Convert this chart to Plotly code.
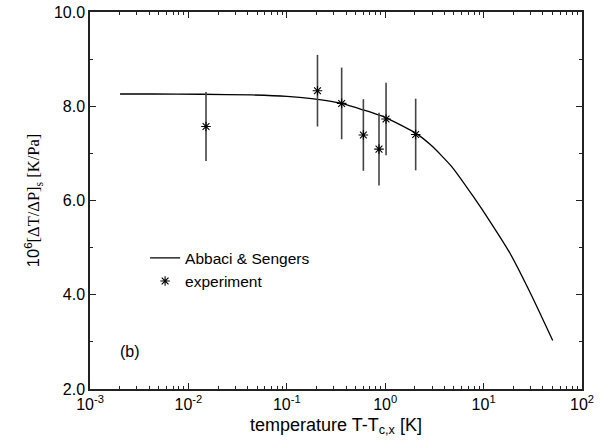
import plotly.graph_objects as go

# Model curve (Abbaci & Sengers)
curve_x = [0.00202, 0.00424, 0.0137, 0.044, 0.1, 0.179, 0.361, 0.600, 1.01, 2.04,
           2.97, 4.74, 7.88, 12.09, 18.55, 30.8, 50.4]
curve_y = [8.26, 8.26, 8.255, 8.24, 8.21, 8.16, 8.06, 7.92, 7.76, 7.43,
           7.16, 6.72, 6.08, 5.50, 4.88, 3.98, 3.03]

# Experimental data
exp_x = [0.0151, 0.205, 0.361, 0.600, 0.865, 1.02, 2.04]
exp_y = [7.57, 8.33, 8.06, 7.39, 7.09, 7.73, 7.40]
exp_err = [0.73, 0.76, 0.76, 0.76, 0.77, 0.77, 0.76]

x_tickvals = [1e-3, 1e-2, 1e-1, 1e0, 1e1, 1e2]
x_ticktext = ["10<sup>-3</sup>", "10<sup>-2</sup>", "10<sup>-1</sup>",
              "10<sup>0</sup>", "10<sup>1</sup>", "10<sup>2</sup>"]
y_tickvals = [2, 4, 6, 8, 10]
y_ticktext = ["2.0", "4.0", "6.0", "8.0", "10.0"]

font_sans = "Liberation Sans, Arial, sans-serif"
font_serif = "Liberation Serif, Times New Roman, serif"

fig = go.Figure()
fig.add_trace(go.Scatter(
    x=curve_x, y=curve_y, mode="lines", name="Abbaci & Sengers",
    line=dict(color="black", width=1.3, shape="spline", smoothing=0.5),
))
fig.add_trace(go.Scatter(
    x=exp_x, y=exp_y, mode="markers", name="experiment",
    marker=dict(symbol="asterisk-open", size=8, color="black",
                line=dict(color="black", width=1.1)),
    error_y=dict(type="data", array=exp_err, visible=True, width=0,
                 thickness=1.6, color="#444444"),
))

axis_common = dict(
    showgrid=False, zeroline=False, showline=True, linecolor="#222222",
    linewidth=1.5, mirror="allticks", ticks="inside", ticklen=6,
    tickcolor="#222222", tickwidth=1, automargin=False,
    tickfont=dict(family=font_sans, size=16, color="black"),
)

fig.update_layout(
    width=602, height=443,
    margin=dict(l=90, r=20, t=12, b=54),
    paper_bgcolor="white", plot_bgcolor="white",
    showlegend=True,
    legend=dict(x=0.112, y=0.392, xanchor="left", yanchor="top",
                bgcolor="rgba(0,0,0,0)", borderwidth=0,
                font=dict(family=font_sans, size=15.5, color="black"),
                tracegroupgap=0),
    xaxis=dict(
        type="log", range=[-3, 2], tickvals=x_tickvals, ticktext=x_ticktext,
        minor=dict(ticks="inside", ticklen=3, tickcolor="#222222",
                   tickwidth=1, dtick="D1", showgrid=False),
        title=dict(text="temperature T-T<sub>c,x</sub> [K]",
                   font=dict(family=font_sans, size=18, color="black"),
                   standoff=6),
        **axis_common,
    ),
    yaxis=dict(
        range=[2, 10], tickvals=y_tickvals, ticktext=y_ticktext,
        minor=dict(ticks="inside", ticklen=3, tickcolor="#222222",
                   tickwidth=1, dtick=1, showgrid=False),
        title=dict(text="<span style=\"font-family:Liberation Sans\">10<sup>6</sup></span>[ΔT/ΔP]<sub>s</sub> [K/Pa]",
                   font=dict(family=font_serif, size=16.5, color="black"),
                   standoff=10),
        **axis_common,
    ),
    annotations=[dict(
        text="(b)", x=0.0, y=0.1, xref="paper", yref="paper",
        xanchor="left", yanchor="middle", xshift=28, showarrow=False,
        font=dict(family=font_sans, size=16, color="black"),
    )],
)

fig.write_html("out.html")
